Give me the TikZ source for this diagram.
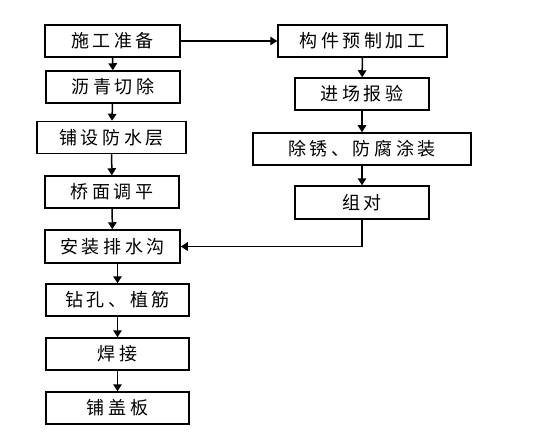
\documentclass[tikz,border=0pt]{standalone}
\usepackage{fontspec}
\newfontfamily\cjk[LetterSpace=20]{Noto Sans CJK SC}
\usetikzlibrary{arrows.meta,positioning}

\begin{document}
\begin{tikzpicture}[
    x=1pt, y=-1pt,
    stepbox/.style={rectangle, draw, line width=1.5pt, minimum height=32pt,
        inner sep=0pt, font=\cjk\fontsize{18}{20}\selectfont},
    arrow/.style={-{Triangle[length=7pt,width=8.5pt]}, line width=1.5pt}
]
    \useasboundingbox (0,0) rectangle (551,441);
    % left column
    \node[stepbox, minimum width=135pt] (prep) at (112.5,41) {施工准备};
    \node[stepbox, minimum width=134pt] (cut) at (113,87) {沥青切除};
    \node[stepbox, minimum width=149pt] (waterproof) at (111.5,137.5) {铺设防水层};
    \node[stepbox, minimum width=134pt] (level) at (112,192) {桥面调平};
    \node[stepbox, minimum width=135pt, minimum height=33pt] (drain) at (112.5,246.5) {安装排水沟};
    \node[stepbox, minimum width=143pt] (drill) at (117.5,300) {钻孔、植筋};
    \node[stepbox, minimum width=143pt] (weld) at (117.5,354) {焊接};
    \node[stepbox, minimum width=143pt] (cover) at (117.5,408) {铺盖板};
    % right column
    \node[stepbox, minimum width=169pt] (prefab) at (362.5,41) {构件预制加工};
    \node[stepbox, minimum width=134pt] (inspect) at (362,94) {进场报验};
    \node[stepbox, minimum width=218pt] (coat) at (362,149) {除锈、防腐涂装};
    \node[stepbox, minimum width=134pt, minimum height=33pt] (assemble) at (362,202.5) {组对};

    \draw[arrow] (prep) -- (prefab);
    \draw[arrow] (prep) -- (cut);
    \draw[arrow] (cut) -- (waterproof);
    \draw[arrow] (waterproof) -- (level);
    \draw[arrow] (level) -- (drain);
    \draw[arrow] (drill.north |- drain.south) -- (drill);
    \draw[arrow] (drill) -- (weld);
    \draw[arrow] (weld) -- (cover);
    \draw[arrow] (prefab) -- (inspect);
    \draw[arrow] (inspect) -- (coat);
    \draw[arrow] (coat) -- (assemble);
    \draw[arrow] (assemble) |- (drain);
\end{tikzpicture}
\end{document}
